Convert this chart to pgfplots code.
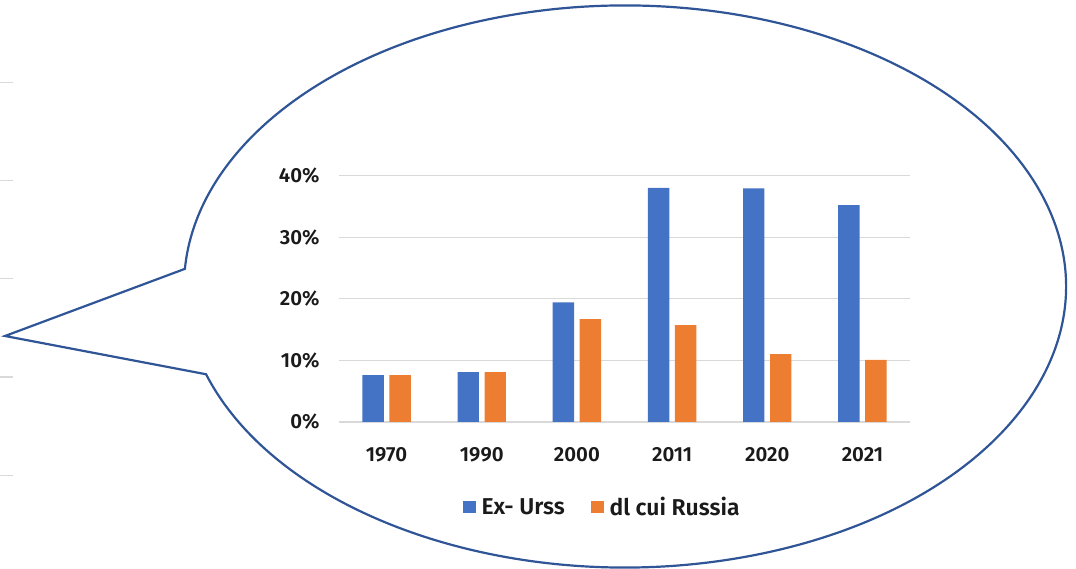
\documentclass[border=0pt]{standalone}
\usepackage{fontspec}
\setmainfont{Fira Sans}[UprightFont=* SemiBold]
\usepackage{pgfplots}
\pgfplotsset{compat=1.18}
\definecolor{cblue}{HTML}{4472C4}
\definecolor{corange}{HTML}{ED7D31}
\definecolor{cline}{HTML}{2F5597}
\definecolor{cgrid}{HTML}{D9D9D9}
\definecolor{ctext}{HTML}{1A1A1A}
\begin{document}
\begin{tikzpicture}[x=1bp,y=1bp]
\path[use as bounding box] (0,0) rectangle (1076,569);
% faint ticks at left edge
\foreach \yy in {82.3,180.3,278.7,377,475.3}{
  \draw[cgrid,line width=1.3bp] (0,569-\yy) -- (13,569-\yy);
}
% speech bubble
\draw[cline,line width=2.2bp,line join=miter]
  (625,282.5) ++(198.2:441 and 281)
  arc[start angle=198.2,end angle=536.4,x radius=441,y radius=281]
  -- (5,233) -- cycle;
\begin{axis}[
  at={(339bp,147bp)}, anchor=south west,
  scale only axis, width=571bp, height=246.5bp,
  ymin=0, ymax=40, xmin=-0.5, xmax=5.5,
  ybar=5.6bp, bar width=21.4bp,
  xtick={0,1,2,3,4,5},
  xticklabels={1970,1990,2000,2011,2020,2021},
  ytick={0,10,20,30,40},
  yticklabel={\pgfmathprintnumber{\tick}\%},
  /pgf/number format/assume math mode=true,
  axis line style={draw=none},
  major tick length=0pt,
  ymajorgrids,
  grid style={draw=cgrid,line width=1.1bp},
  tick label style={font=\fontsize{20.5}{23}\selectfont, text=ctext},
  xticklabel style={yshift=-21.5bp},
  yticklabel style={xshift=-16bp},
  legend style={at={(0.461,-0.345)}, anchor=center, draw=none,
    font=\fontsize{23}{26}\selectfont, text=ctext,
    legend columns=2,
    /tikz/every odd column/.append style={column sep=4bp},
    /tikz/every even column/.append style={column sep=24bp}},
  legend image code/.code={\fill[#1] (0bp,-6.35bp) rectangle (12.7bp,6.35bp);},
]
\addplot[fill=cblue,draw=none] coordinates {(0,7.6) (1,8.1) (2,19.4) (3,38.0) (4,37.9) (5,35.2)};
\addplot[fill=corange,draw=none] coordinates {(0,7.6) (1,8.1) (2,16.7) (3,15.7) (4,11.0) (5,10.1)};
\legend{Ex- Urss, dl cui Russia}
\end{axis}
\end{tikzpicture}
\end{document}
